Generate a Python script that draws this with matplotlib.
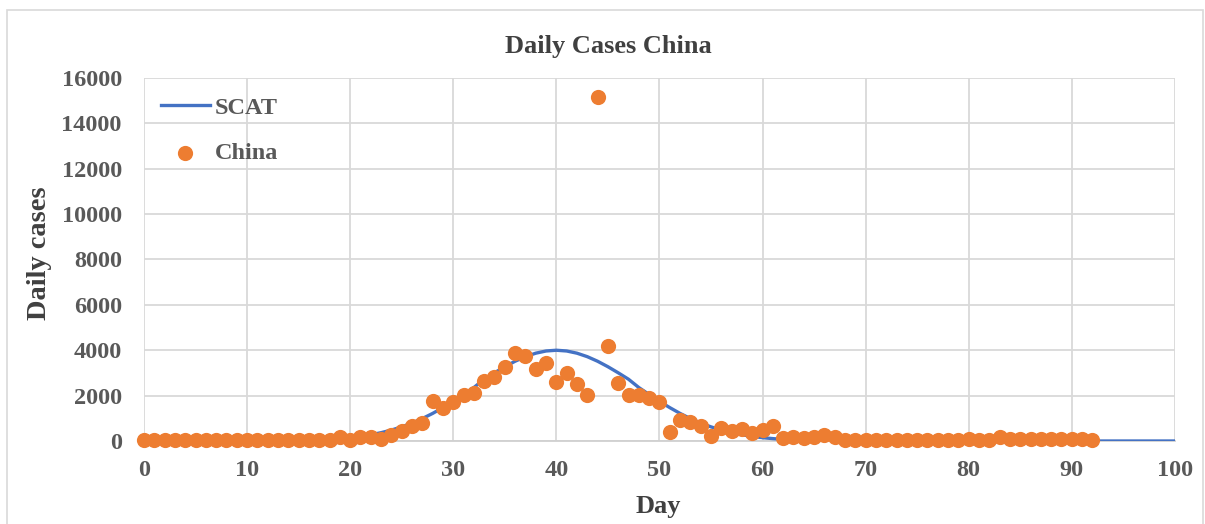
"""Daily cases in China with the SCAT fit curve (Excel-style chart)."""
import matplotlib.pyplot as plt
from matplotlib.patches import Rectangle

# observed daily cases, day 0..92
days = list(range(93))
china = [
    40, 40, 40, 40, 40, 40, 40, 40, 40, 40,
    40, 40, 40, 40, 40, 40, 40, 40, 45, 190,
    30, 190, 160, 75, 264, 454, 661, 785, 1763, 1440,
    1733, 2010, 2120, 2630, 2830, 3247, 3870, 3746, 3165, 3440,
    2615, 2983, 2498, 2027, 15152, 4165, 2542, 2040, 2040, 1880,
    1733, 411, 925, 852, 650, 200, 570, 440, 530, 340,
    500, 650, 120, 190, 120, 160, 280, 180, 60, 50,
    50, 50, 50, 50, 50, 50, 50, 50, 50, 60,
    100, 60, 60, 180, 80, 80, 90, 100, 110, 100,
    90, 80, 50,
]

# SCAT fitted curve, day 0..100
scat_days = list(range(101))
scat = [0] * 10 + [
    2, 4, 6, 10, 15, 23, 34, 50, 73, 105,
    147, 203, 275, 367, 482, 623, 792, 989, 1216, 1472,
    1750, 2049, 2357, 2722, 3006, 3274, 3515, 3717, 3870, 3967,
    4000, 3967, 3870, 3717, 3515, 3274, 3006, 2722, 2357, 2049,
    1750, 1472, 1216, 989, 792, 623, 482, 367, 275, 203,
    147, 105, 73, 50, 34, 23, 15, 10, 6, 4,
    2,
] + [0] * 30

x_ticks = list(range(0, 101, 10))
y_ticks = list(range(0, 16001, 2000))

plt.rcParams["font.family"] = ["Liberation Serif", "DejaVu Serif"]
plt.rcParams["font.weight"] = "bold"

fig = plt.figure(figsize=(12.05, 5.24), dpi=100)
ax = fig.add_axes([0.1195, 0.1584, 0.8555, 0.6928])

ax.plot(scat_days, scat, color="#4472C4", lw=2.4, label="SCAT", zorder=3)
ax.scatter(days, china, s=120, color="#ED7D31", label="China", zorder=4,
           clip_on=False, linewidths=0)

ax.set_xlim(0, 100)
ax.set_ylim(0, 16000)
ax.set_xticks(x_ticks)
ax.set_yticks(y_ticks)
ax.tick_params(length=0, labelsize=17.5, labelcolor="#595959")
ax.tick_params(axis="x", pad=14)
ax.tick_params(axis="y", pad=16)
for lab in ax.get_xticklabels() + ax.get_yticklabels():
    lab.set_fontweight("bold")

ax.grid(True, color="#d9d9d9", lw=1.3)
ax.set_axisbelow(True)
for s in ["left", "top", "right"]:
    ax.spines[s].set_visible(False)
ax.spines["bottom"].set_color("#d0d0d0")
ax.spines["bottom"].set_linewidth(1.3)

fig.text(0.505, 0.912, "Daily Cases China", ha="center", va="center",
         fontsize=19, fontweight="bold", color="#404040")
fig.text(0.546, 0.034, "Day", ha="center", va="center",
         fontsize=19, fontweight="bold", color="#404040")
fig.text(0.033, 0.517, "Daily cases", ha="center", va="center", rotation=90,
         fontsize=20.5, fontweight="bold", color="#404040")

leg = ax.legend(loc="upper left", bbox_to_anchor=(0.0, 0.995), frameon=False,
                prop={"size": 17.5, "weight": "bold"}, handlelength=2.0,
                handletextpad=0.2, labelspacing=0.95, borderaxespad=0.3)
for t in leg.get_texts():
    t.set_color("#595959")

fig.patches.append(Rectangle((0.006, -0.01), 0.992, 0.99, transform=fig.transFigure,
                             fill=False, edgecolor="#d9d9d9", lw=1.2))

fig.savefig("out.png", dpi=100)
